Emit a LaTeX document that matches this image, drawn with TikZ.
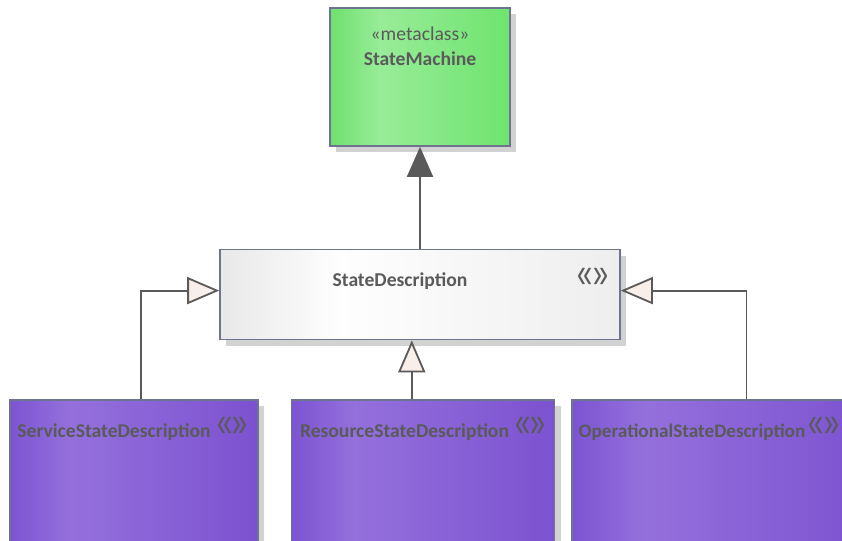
\documentclass[tikz,border=0pt]{standalone}
\usepackage{fontspec}
\usepackage{graphicx}
\setmainfont{Carlito}
\newfontfamily\guilfont{Liberation Sans}
\usetikzlibrary{arrows.meta, positioning, calc, shadows}

\definecolor{umlline}{HTML}{5A5A5A}
\definecolor{umlborder}{HTML}{6E7490}
\definecolor{umltext}{HTML}{5A5A5A}
\definecolor{headfill}{HTML}{F8EEEA}
\definecolor{shadowgray}{HTML}{D2D2D2}
\definecolor{greenA}{HTML}{6EE06E}
\definecolor{greenB}{HTML}{98EC98}
\definecolor{greenC}{HTML}{6EE46E}
\definecolor{purpleA}{HTML}{7C54D2}
\definecolor{purpleB}{HTML}{9470DC}
\definecolor{purpleC}{HTML}{7C52D0}
\definecolor{grayA}{HTML}{E8E8E8}
\definecolor{grayB}{HTML}{FEFEFE}
\definecolor{grayC}{HTML}{EEEEEE}

\pgfdeclarehorizontalshading{metafill}{100bp}{color(0bp)=(greenA); color(25bp)=(greenA); color(39bp)=(greenB); color(75bp)=(greenC); color(100bp)=(greenC)}
\pgfdeclarehorizontalshading{purplefill}{100bp}{color(0bp)=(purpleA); color(25bp)=(purpleA); color(37bp)=(purpleB); color(75bp)=(purpleC); color(100bp)=(purpleC)}
\pgfdeclarehorizontalshading{grayfill}{100bp}{color(0bp)=(grayA); color(25bp)=(grayA); color(40bp)=(grayB); color(75bp)=(grayC); color(100bp)=(grayC)}

% stereotype marker
\newcommand{\guilicon}{\scalebox{1}[1.55]{«\kern0.5pt»}}

\begin{document}
\begin{tikzpicture}[
  x=1pt, y=-1pt,
  classbox/.style={rectangle, draw=umlborder, line width=1.6pt, inner sep=0pt,
                   drop shadow={fill=shadowgray, opacity=1, shadow xshift=6pt, shadow yshift=-6pt}},
  metabox/.style={classbox, shading=metafill, minimum width=180pt, minimum height=138pt},
  abstractbox/.style={classbox, shading=grayfill, minimum width=400pt, minimum height=90pt},
  leafbox/.style={classbox, shading=purplefill, minimum height=160pt},
  cname/.style={inner sep=0pt, text=umltext, font=\bfseries\fontsize{19.6}{23}\selectfont},
  stereo/.style={inner sep=0pt, text=umltext, font=\fontsize{19.6}{23}\selectfont},
  guil/.style={inner sep=0pt, text=umltext, font=\guilfont\fontsize{27}{29}\selectfont},
  inh/.style={-{Triangle[length=30pt, width=26pt]}, draw=umlline, line width=1.8pt},
  gen/.style={-{Triangle[length=32pt, width=27pt, fill=headfill]}, draw=umlline, line width=1.8pt}
]
\useasboundingbox (0,0) rectangle (842,540);

% Classes
\node[metabox] (machine) at (420,77) {};
\node[abstractbox, below=102pt of machine] (stdesc) {};
\node[leafbox, minimum width=248pt] (service) at (134,480) {};
\node[leafbox, minimum width=263pt, right=32pt of service] (resource) {};
\node[leafbox, minimum width=301pt, right=16pt of resource] (operational) {};

% Texts
\node[stereo] (machine-st) at ([yshift=-27pt]machine.north) {«metaclass»};
\node[cname] (machine-name) at ([yshift=-51pt]machine.north) {StateMachine};
\node[cname] (stdesc-name) at ([xshift=-20pt, yshift=-32pt]stdesc.north) {StateDescription};
\node[guil] (stdesc-icon) at ([xshift=-28pt, yshift=-29pt]stdesc.north east) {\guilicon};
\node[cname, anchor=west] (service-name) at ([xshift=8pt, yshift=-33pt]service.north west) {ServiceStateDescription};
\node[guil, right=6pt of service-name, yshift=5pt] (service-icon) {\guilicon};
\node[cname, anchor=west] (resource-name) at ([xshift=9pt, yshift=-33pt]resource.north west) {ResourceStateDescription};
\node[guil, right=6pt of resource-name, yshift=5pt] (resource-icon) {\guilicon};
\node[cname, anchor=west, font=\bfseries\fontsize{19.2}{23}\selectfont] (operational-name) at ([xshift=7pt, yshift=-33pt]operational.north west) {OperationalStateDescription};
\node[guil, right=3pt of operational-name, yshift=5pt] (operational-icon) {\guilicon};

% Generalizations
\draw[inh] (stdesc) -- (machine);
\draw[gen] ([xshift=132pt]service.north west) |- ([yshift=4pt]stdesc.west);
\draw[gen] ([xshift=121pt]resource.north west) -- ([xshift=121pt]resource.north west |- stdesc.south);
\draw[gen] ([xshift=175pt]operational.north west) |- ([yshift=4pt]stdesc.east);
\end{tikzpicture}
\end{document}
